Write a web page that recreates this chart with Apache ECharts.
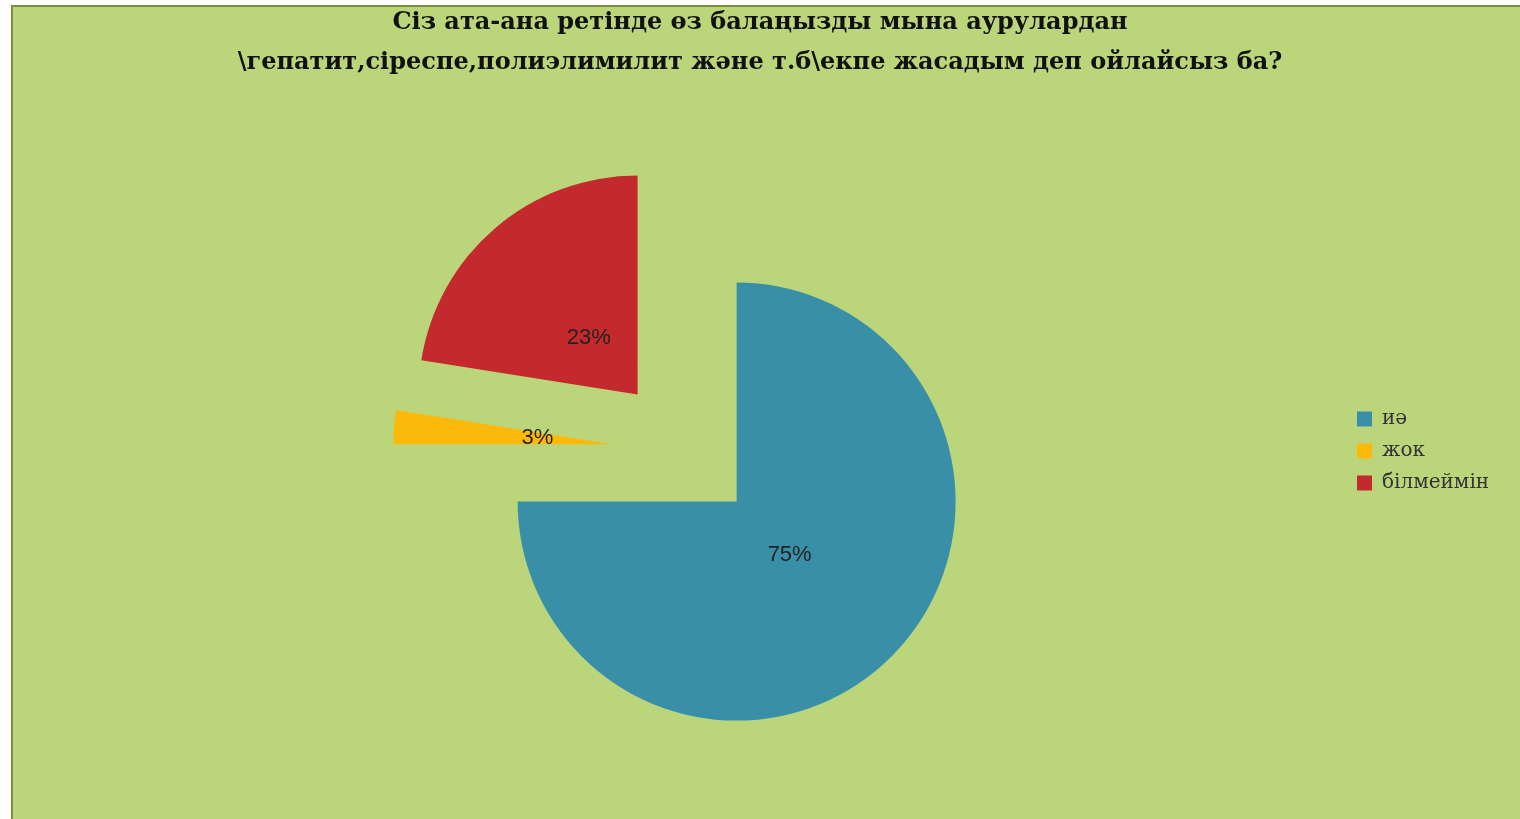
<!DOCTYPE html>
<html>
<head>
<meta charset="utf-8">
<script src="https://cdn.jsdelivr.net/npm/echarts@6/dist/echarts.min.js"></script>
<style>
html,body{margin:0;padding:0;background:#fff;}
#chart{width:1520px;height:819px;}
</style>
</head>
<body>
<div id="chart"></div>
<script>
var titleLines = ['Сіз ата-ана ретінде өз балаңызды мына аурулардан', '\\гепатит,сіреспе,полиэлимилит және т.б\\екпе жасадым деп ойлайсыз ба?'];
var categories = ['иә', 'жок', 'білмеймін'];
var values = [75, 2.5, 22.5];
var colors = ['#3A8FA8', '#FDB90B', '#C3292D'];

var chart = echarts.init(document.getElementById('chart'));
function makeData(transparent) {
  return categories.map(function (c, i) {
    return {
      name: c,
      value: values[i],
      selected: true,
      itemStyle: { color: transparent ? 'rgba(0,0,0,0)' : colors[i] }
    };
  });
}
var center = [685, 450];
var offset = 73;
chart.setOption({
  backgroundColor: '#ffffff',
  animation: false,
  graphic: [
    { type: 'rect', z: -10, shape: { x: 12, y: 5, width: 1508, height: 814 }, style: { fill: '#BBD67A' } },
    { type: 'rect', z: -9, shape: { x: 12, y: 5, width: 1508, height: 2 }, style: { fill: '#76923C' } },
    { type: 'rect', z: -9, shape: { x: 11, y: 5, width: 2, height: 814 }, style: { fill: '#76923C' } }
  ],
  title: {
    text: titleLines.join('\n'),
    left: 'center',
    top: 3,
    padding: 0,
    textStyle: {
      fontFamily: 'DejaVu Serif',
      fontWeight: 'bold',
      fontSize: 24,
      lineHeight: 40,
      color: '#111'
    }
  },
  legend: {
    orient: 'vertical',
    left: 1357,
    top: 409,
    padding: 0,
    itemWidth: 15,
    itemHeight: 15,
    itemGap: 12,
    icon: 'rect',
    data: categories,
    selectedMode: false,
    textStyle: { fontFamily: 'DejaVu Serif', fontSize: 20, lineHeight: 20, color: '#333', padding: [0, 0, 0, 5] }
  },
  series: [
    {
      type: 'pie',
      center: center,
      radius: [0, 219],
      startAngle: 90,
      clockwise: true,
      selectedMode: 'multiple',
      selectedOffset: offset,
      avoidLabelOverlap: false,
      label: { show: false },
      labelLine: { show: false },
      itemStyle: { borderWidth: 0 },
      emphasis: { disabled: true, scale: false },
      silent: true,
      data: makeData(false)
    },
    {
      type: 'pie',
      center: center,
      radius: [0, 144],
      startAngle: 90,
      clockwise: true,
      selectedMode: 'multiple',
      selectedOffset: offset,
      avoidLabelOverlap: false,
      itemStyle: { borderWidth: 0 },
      emphasis: { disabled: true, scale: false },
      silent: true,
      label: {
        show: true,
        position: 'inside',
        fontFamily: 'Liberation Sans',
        fontSize: 22,
        color: '#222',
        formatter: function (p) { return Math.round(p.value) + '%'; }
      },
      labelLine: { show: false },
      data: makeData(true)
    }
  ]
});
</script>
</body>
</html>
